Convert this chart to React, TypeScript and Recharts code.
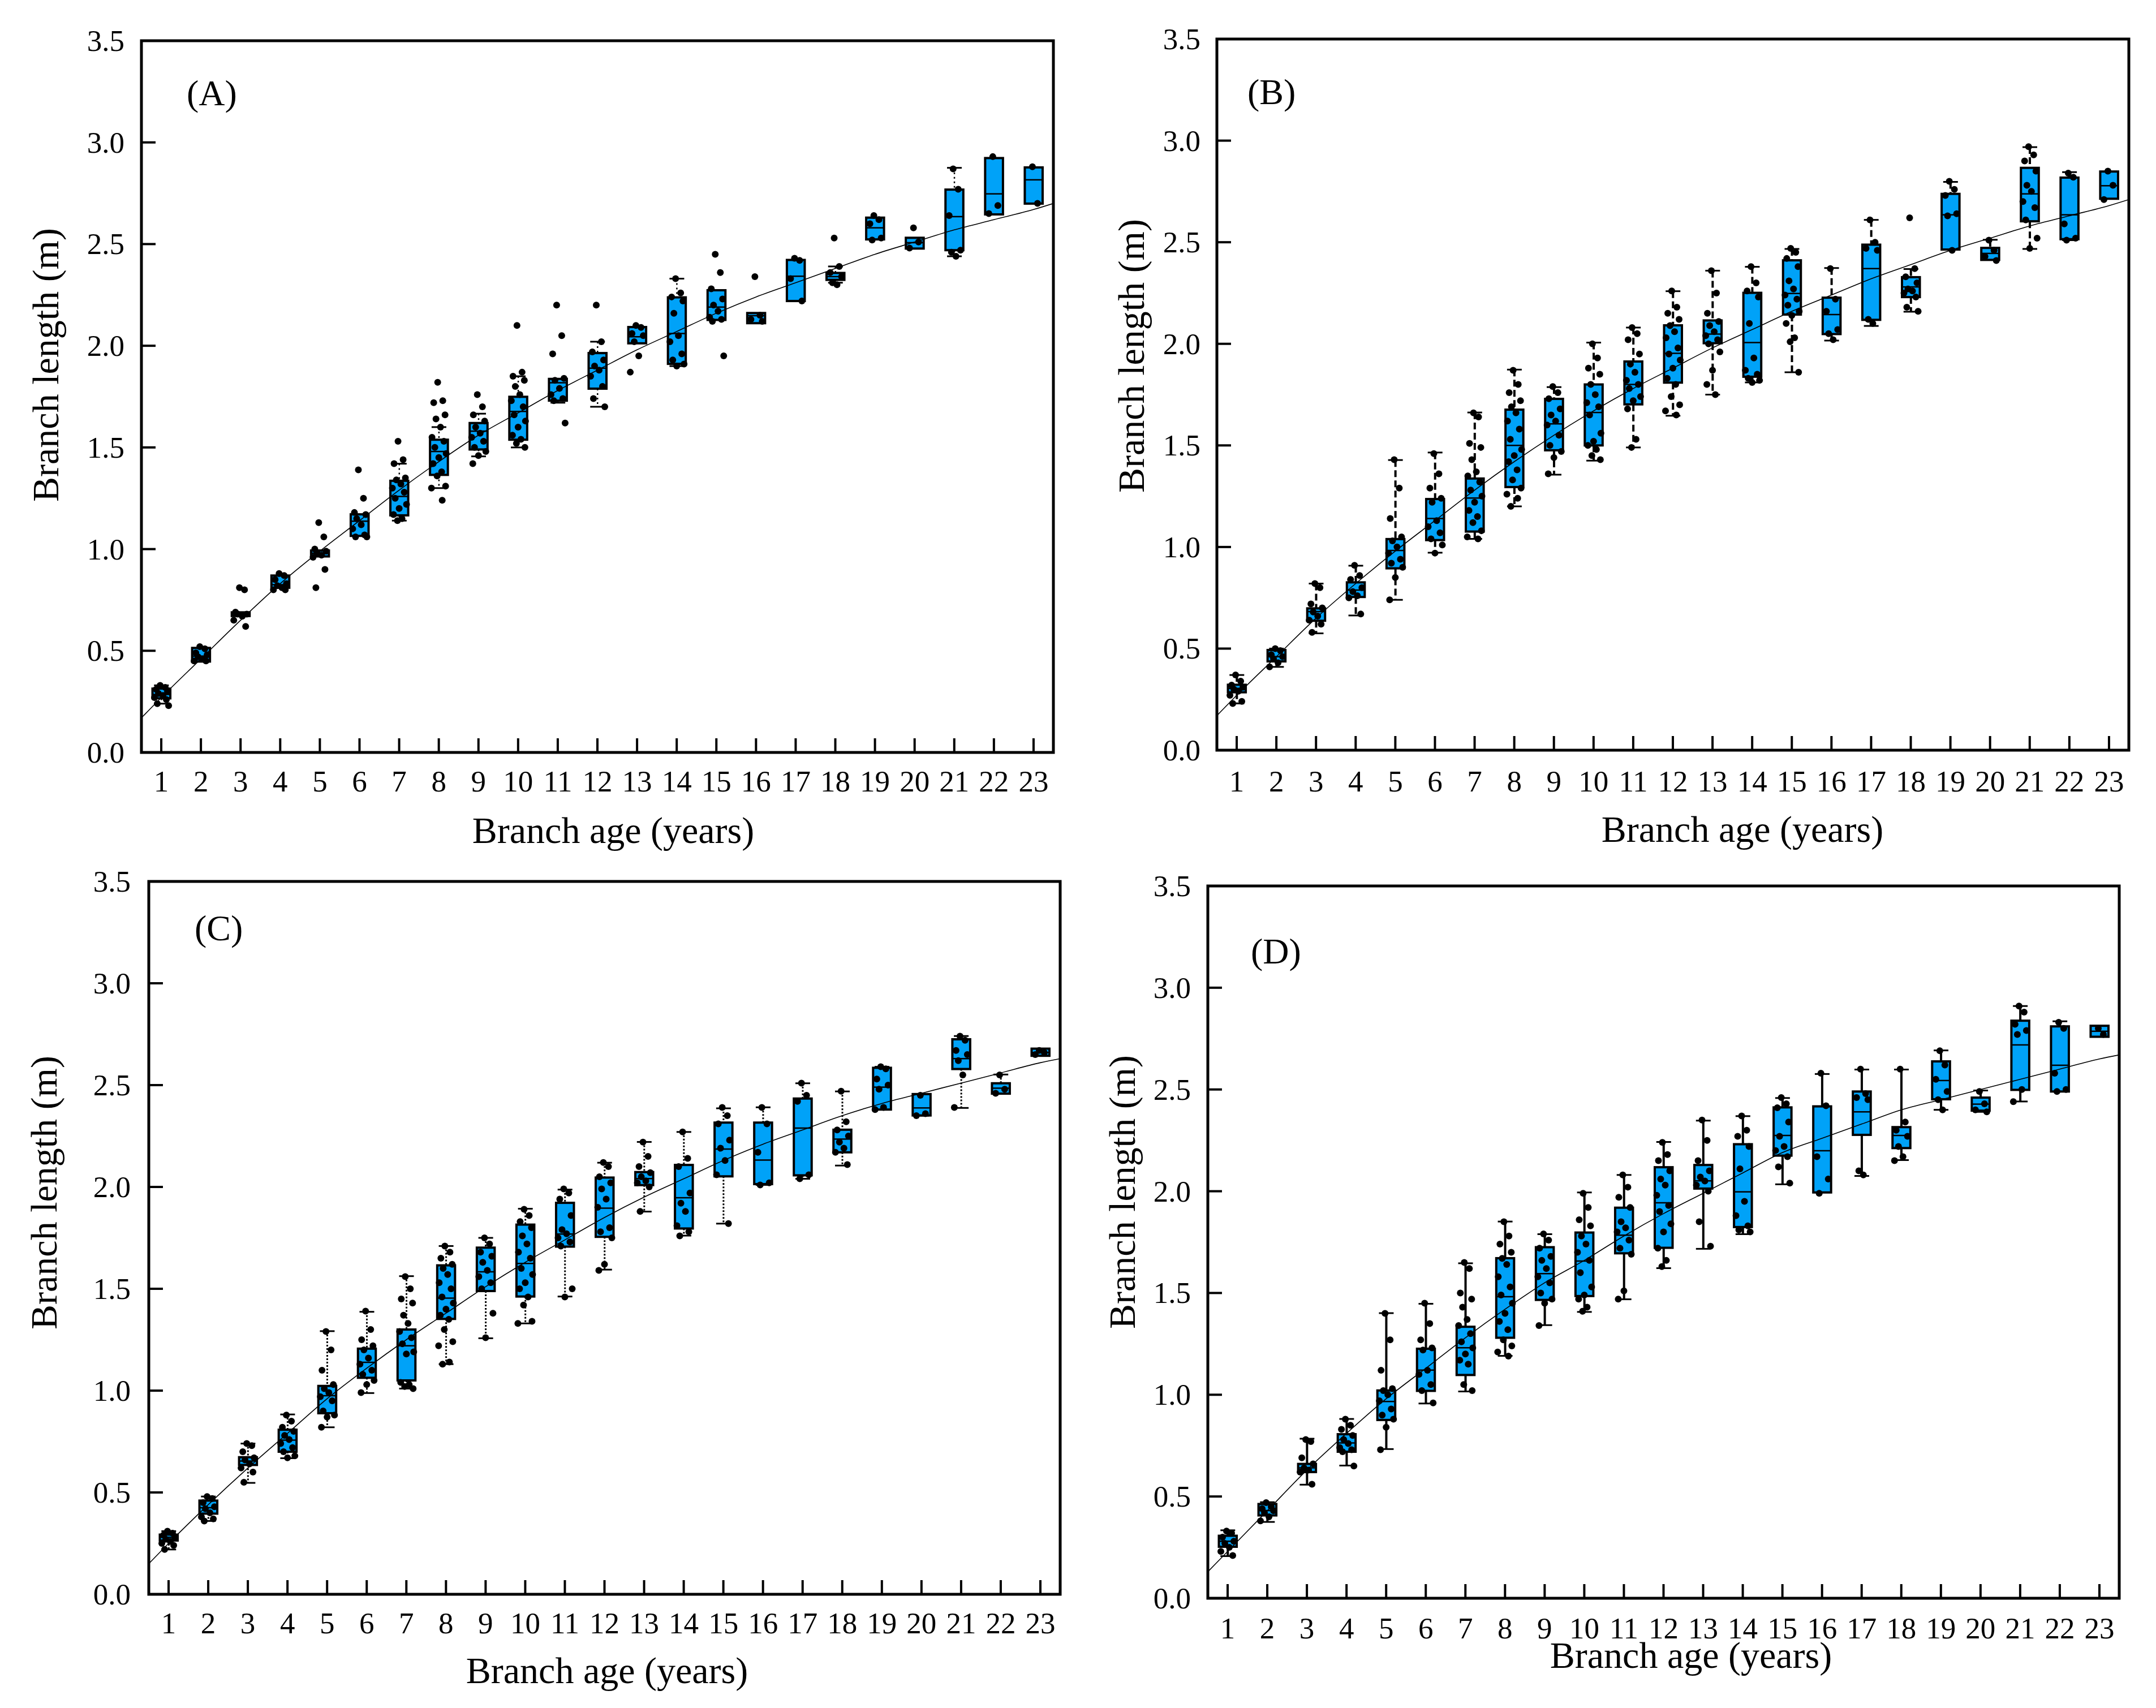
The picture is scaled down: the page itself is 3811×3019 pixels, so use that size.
import React from "react";
import { ComposedChart, Bar, Line, Scatter, XAxis, YAxis, ReferenceArea, Label } from "recharts";

const FONT = '"Liberation Serif", "Times New Roman", serif';
const BOX_FILL = "#00A2F8";

const AGES = [1, 2, 3, 4, 5, 6, 7, 8, 9, 10, 11, 12, 13, 14, 15, 16, 17, 18, 19, 20, 21, 22, 23];
const Y_TICKS = [0, 0.5, 1, 1.5, 2, 2.5, 3, 3.5];
const FIT_AGES = [0.5, 1, 2, 3, 4, 5, 6, 7, 8, 9, 10, 11, 12, 13, 14, 15, 16, 17, 18, 19, 20, 21, 22, 23, 23.5];

// ---- panel A ----
const A_Q1 = [0.266, 0.447, 0.671, 0.81, 0.964, 1.065, 1.166, 1.365, 1.49, 1.538, 1.73, 1.789, 2.012, 1.911, 2.127, 2.111, 2.22, 2.324, 2.523, 2.478, 2.47, 2.646, 2.699];
const A_MED = [0.285, 0.474, 0.68, 0.825, 0.98, 1.137, 1.259, 1.48, 1.58, 1.677, 1.818, 1.89, 2.044, 2.06, 2.19, 2.148, 2.342, 2.34, 2.58, 2.507, 2.635, 2.747, 2.816];
const A_Q3 = [0.314, 0.514, 0.689, 0.87, 0.993, 1.171, 1.336, 1.538, 1.62, 1.749, 1.837, 1.964, 2.092, 2.238, 2.273, 2.161, 2.422, 2.358, 2.63, 2.531, 2.768, 2.923, 2.877];
const A_LO = [0.24, 0.447, 0.671, 0.81, 0.964, 1.065, 1.14, 1.3, 1.456, 1.5, 1.72, 1.7, 2.012, 1.9, 2.127, 2.111, 2.22, 2.31, 2.523, 2.478, 2.44, 2.646, 2.699];
const A_HI = [0.33, 0.514, 0.689, 0.87, 0.993, 1.171, 1.42, 1.6, 1.666, 1.85, 1.837, 2.02, 2.092, 2.33, 2.273, 2.161, 2.422, 2.39, 2.63, 2.531, 2.875, 2.923, 2.877];
const A_PTS = [
  [0.33, 0.32, 0.31, 0.3, 0.29, 0.28, 0.27, 0.26, 0.24, 0.23],
  [0.52, 0.51, 0.49, 0.48, 0.47, 0.46, 0.45, 0.45],
  [0.81, 0.8, 0.69, 0.68, 0.68, 0.67, 0.65, 0.62],
  [0.88, 0.87, 0.85, 0.83, 0.82, 0.81, 0.8, 0.8],
  [1.13, 1.06, 1.0, 0.99, 0.98, 0.97, 0.96, 0.9, 0.81],
  [1.39, 1.25, 1.18, 1.17, 1.15, 1.12, 1.1, 1.07, 1.06, 1.06],
  [1.53, 1.44, 1.42, 1.35, 1.34, 1.32, 1.3, 1.28, 1.25, 1.22, 1.2, 1.17, 1.15, 1.14],
  [1.82, 1.73, 1.72, 1.66, 1.64, 1.6, 1.55, 1.53, 1.5, 1.47, 1.45, 1.42, 1.38, 1.36, 1.31, 1.3, 1.24],
  [1.76, 1.7, 1.66, 1.63, 1.6, 1.57, 1.55, 1.53, 1.5, 1.48, 1.46, 1.42],
  [2.1, 1.87, 1.85, 1.83, 1.8, 1.76, 1.73, 1.7, 1.66, 1.63, 1.6, 1.56, 1.54, 1.52, 1.5],
  [2.2, 2.05, 1.96, 1.84, 1.83, 1.79, 1.76, 1.74, 1.73, 1.62],
  [2.2, 2.02, 1.97, 1.93, 1.9, 1.88, 1.85, 1.8, 1.74, 1.7],
  [2.1, 2.09, 2.06, 2.05, 2.02, 1.95, 1.87],
  [2.33, 2.26, 2.24, 2.22, 2.16, 2.05, 2.02, 1.96, 1.93, 1.91, 1.9],
  [2.45, 2.36, 2.28, 2.23, 2.2, 2.17, 2.14, 2.13, 2.12, 1.95],
  [2.34, 2.15, 2.13, 2.12],
  [2.43, 2.42, 2.33, 2.22],
  [2.53, 2.39, 2.36, 2.34, 2.31, 2.3],
  [2.64, 2.62, 2.6, 2.53, 2.52],
  [2.58, 2.51, 2.48],
  [2.87, 2.77, 2.64, 2.47, 2.46, 2.44],
  [2.93, 2.69, 2.65],
  [2.88, 2.7],
];
const A_FIT = [0.17, 0.27, 0.46, 0.65, 0.83, 0.99, 1.14, 1.29, 1.43, 1.56, 1.67, 1.78, 1.88, 1.98, 2.07, 2.16, 2.24, 2.31, 2.38, 2.45, 2.51, 2.57, 2.62, 2.67, 2.7];

// ---- panel B ----
const B_Q1 = [0.285, 0.437, 0.637, 0.754, 0.895, 1.034, 1.076, 1.295, 1.476, 1.5, 1.702, 1.809, 2.003, 1.838, 2.144, 2.048, 2.118, 2.23, 2.464, 2.413, 2.603, 2.515, 2.714];
const B_MED = [0.304, 0.46, 0.682, 0.788, 0.983, 1.14, 1.241, 1.5, 1.606, 1.662, 1.8, 1.953, 2.048, 2.006, 2.248, 2.144, 2.37, 2.28, 2.635, 2.445, 2.738, 2.635, 2.778];
const B_Q3 = [0.322, 0.493, 0.698, 0.826, 1.039, 1.236, 1.337, 1.676, 1.729, 1.8, 1.913, 2.091, 2.115, 2.251, 2.411, 2.227, 2.488, 2.328, 2.738, 2.472, 2.866, 2.818, 2.848];
const B_LO = [0.23, 0.41, 0.575, 0.663, 0.74, 0.972, 1.04, 1.2, 1.356, 1.425, 1.49, 1.646, 1.75, 1.81, 1.86, 2.016, 2.088, 2.158, 2.464, 2.413, 2.467, 2.51, 2.714];
const B_HI = [0.37, 0.5, 0.82, 0.908, 1.428, 1.465, 1.662, 1.873, 1.787, 2.006, 2.08, 2.259, 2.36, 2.379, 2.467, 2.373, 2.61, 2.368, 2.797, 2.512, 2.968, 2.845, 2.848];
const B_PTS = [
  [0.37, 0.34, 0.32, 0.31, 0.3, 0.29, 0.27, 0.24, 0.23],
  [0.5, 0.49, 0.47, 0.46, 0.45, 0.43, 0.41],
  [0.82, 0.8, 0.72, 0.7, 0.68, 0.66, 0.64, 0.62, 0.58],
  [0.91, 0.86, 0.84, 0.8, 0.78, 0.76, 0.75, 0.67],
  [1.43, 1.29, 1.14, 1.05, 1.03, 1.0, 0.97, 0.94, 0.92, 0.9, 0.85, 0.74],
  [1.46, 1.36, 1.29, 1.24, 1.22, 1.13, 1.1, 1.07, 1.04, 1.01, 0.97],
  [1.66, 1.64, 1.51, 1.49, 1.43, 1.37, 1.35, 1.32, 1.28, 1.25, 1.22, 1.18, 1.15, 1.12, 1.08, 1.05, 1.04],
  [1.87, 1.8, 1.76, 1.72, 1.69, 1.66, 1.62, 1.58, 1.53, 1.48, 1.45, 1.42, 1.38, 1.33, 1.29, 1.26, 1.24, 1.2],
  [1.79, 1.76, 1.73, 1.68, 1.65, 1.62, 1.6, 1.55, 1.5, 1.47, 1.44, 1.36],
  [2.0, 1.93, 1.88, 1.85, 1.8, 1.75, 1.71, 1.69, 1.65, 1.56, 1.52, 1.5, 1.48, 1.45, 1.43],
  [2.08, 2.05, 2.02, 1.95, 1.9, 1.86, 1.82, 1.8, 1.78, 1.74, 1.72, 1.68, 1.53, 1.49],
  [2.26, 2.18, 2.15, 2.12, 2.09, 2.06, 2.03, 1.98, 1.95, 1.92, 1.88, 1.83, 1.8, 1.74, 1.7, 1.67, 1.65],
  [2.36, 2.25, 2.15, 2.11, 2.09, 2.06, 2.04, 2.02, 2.0, 1.96, 1.87, 1.8, 1.75],
  [2.38, 2.3, 2.26, 2.23, 2.1, 1.93, 1.87, 1.85, 1.83, 1.82, 1.81],
  [2.47, 2.45, 2.42, 2.38, 2.31, 2.27, 2.24, 2.22, 2.19, 2.16, 2.14, 2.1, 2.03, 2.01, 1.86],
  [2.37, 2.22, 2.16, 2.07, 2.05, 2.02],
  [2.61, 2.5, 2.47, 2.46, 2.12, 2.1],
  [2.62, 2.37, 2.33, 2.3, 2.27, 2.26, 2.25, 2.23, 2.18, 2.16],
  [2.8, 2.76, 2.73, 2.64, 2.63, 2.46],
  [2.51, 2.46, 2.43, 2.41],
  [2.97, 2.93, 2.9, 2.85, 2.78, 2.75, 2.7, 2.67, 2.61, 2.52, 2.47],
  [2.84, 2.82, 2.59, 2.52, 2.51],
  [2.85, 2.78, 2.71],
];
const B_FIT = [0.17, 0.27, 0.46, 0.65, 0.82, 0.98, 1.13, 1.28, 1.42, 1.55, 1.67, 1.78, 1.88, 1.98, 2.07, 2.16, 2.24, 2.32, 2.39, 2.46, 2.52, 2.58, 2.63, 2.68, 2.71];

// ---- panel C ----
const C_Q1 = [0.264, 0.396, 0.635, 0.7, 0.889, 1.063, 1.05, 1.352, 1.489, 1.462, 1.707, 1.755, 2.009, 1.796, 2.052, 2.014, 2.057, 2.17, 2.38, 2.351, 2.579, 2.458, 2.644];
const C_MED = [0.28, 0.425, 0.654, 0.757, 0.975, 1.139, 1.22, 1.454, 1.583, 1.624, 1.769, 1.896, 2.041, 1.947, 2.186, 2.132, 2.289, 2.235, 2.49, 2.388, 2.63, 2.485, 2.66];
const C_Q3 = [0.293, 0.46, 0.673, 0.808, 1.023, 1.206, 1.3, 1.615, 1.702, 1.815, 1.922, 2.046, 2.073, 2.108, 2.316, 2.316, 2.434, 2.281, 2.585, 2.456, 2.725, 2.509, 2.679];
const C_LO = [0.22, 0.36, 0.547, 0.668, 0.82, 0.988, 1.01, 1.13, 1.257, 1.33, 1.462, 1.594, 1.879, 1.761, 1.82, 2.01, 2.04, 2.105, 2.38, 2.35, 2.388, 2.458, 2.644];
const C_HI = [0.31, 0.48, 0.74, 0.883, 1.292, 1.387, 1.562, 1.71, 1.75, 1.893, 1.987, 2.119, 2.221, 2.27, 2.386, 2.391, 2.509, 2.469, 2.59, 2.456, 2.741, 2.552, 2.679];
const C_PTS = [
  [0.31, 0.3, 0.29, 0.28, 0.27, 0.26, 0.25, 0.24, 0.22],
  [0.48, 0.47, 0.45, 0.43, 0.42, 0.4, 0.38, 0.37, 0.36],
  [0.74, 0.73, 0.7, 0.67, 0.66, 0.64, 0.62, 0.6, 0.55],
  [0.88, 0.85, 0.82, 0.8, 0.78, 0.76, 0.74, 0.72, 0.7, 0.68, 0.67],
  [1.29, 1.2, 1.1, 1.03, 1.01, 0.99, 0.97, 0.95, 0.9, 0.88, 0.87, 0.82],
  [1.39, 1.3, 1.25, 1.22, 1.2, 1.16, 1.13, 1.1, 1.08, 1.05, 1.03, 0.99],
  [1.56, 1.5, 1.45, 1.43, 1.37, 1.33, 1.29, 1.26, 1.23, 1.19, 1.18, 1.04, 1.03, 1.02, 1.01],
  [1.71, 1.68, 1.65, 1.62, 1.6, 1.57, 1.53, 1.5, 1.46, 1.43, 1.4, 1.37, 1.35, 1.3, 1.24, 1.22, 1.14, 1.13],
  [1.75, 1.72, 1.68, 1.66, 1.63, 1.59, 1.56, 1.53, 1.5, 1.38, 1.26],
  [1.89, 1.86, 1.83, 1.8, 1.76, 1.72, 1.68, 1.65, 1.6, 1.57, 1.53, 1.5, 1.46, 1.42, 1.34, 1.33],
  [1.99, 1.97, 1.94, 1.86, 1.79, 1.77, 1.75, 1.73, 1.71, 1.5, 1.46],
  [2.12, 2.1, 2.05, 2.02, 1.99, 1.94, 1.9, 1.8, 1.78, 1.75, 1.62, 1.59],
  [2.22, 2.15, 2.1, 2.07, 2.05, 2.03, 2.02, 2.0, 1.88],
  [2.27, 2.14, 2.1, 1.97, 1.92, 1.88, 1.81, 1.78, 1.76],
  [2.39, 2.35, 2.31, 2.23, 2.19, 2.13, 2.06, 1.82],
  [2.39, 2.31, 2.17, 2.02, 2.01],
  [2.51, 2.45, 2.42, 2.06, 2.04],
  [2.47, 2.32, 2.28, 2.25, 2.22, 2.19, 2.17, 2.11],
  [2.59, 2.58, 2.53, 2.5, 2.48, 2.39, 2.38],
  [2.45, 2.36, 2.35],
  [2.74, 2.72, 2.67, 2.65, 2.62, 2.55, 2.39],
  [2.55, 2.48, 2.46],
  [2.67, 2.66, 2.65],
];
const C_FIT = [0.15, 0.25, 0.44, 0.62, 0.79, 0.96, 1.11, 1.25, 1.38, 1.51, 1.63, 1.74, 1.85, 1.95, 2.04, 2.13, 2.21, 2.28, 2.35, 2.41, 2.46, 2.51, 2.56, 2.61, 2.63];

// ---- panel D ----
const D_Q1 = [0.253, 0.407, 0.62, 0.72, 0.876, 1.019, 1.097, 1.28, 1.466, 1.485, 1.695, 1.722, 2.013, 1.824, 2.175, 1.994, 2.277, 2.212, 2.452, 2.396, 2.498, 2.49, 2.759];
const D_MED = [0.28, 0.431, 0.641, 0.763, 0.967, 1.121, 1.231, 1.482, 1.595, 1.657, 1.784, 1.943, 2.051, 1.997, 2.274, 2.199, 2.39, 2.274, 2.544, 2.428, 2.719, 2.619, 2.786];
const D_Q3 = [0.307, 0.463, 0.66, 0.806, 1.021, 1.226, 1.334, 1.671, 1.725, 1.797, 1.919, 2.118, 2.129, 2.231, 2.412, 2.417, 2.49, 2.315, 2.638, 2.46, 2.838, 2.81, 2.813];
const D_LO = [0.207, 0.375, 0.558, 0.652, 0.733, 0.957, 1.016, 1.191, 1.342, 1.407, 1.469, 1.622, 1.717, 1.789, 2.034, 1.994, 2.075, 2.153, 2.4, 2.39, 2.441, 2.49, 2.759];
const D_HI = [0.334, 0.472, 0.784, 0.881, 1.401, 1.447, 1.646, 1.851, 1.789, 1.994, 2.08, 2.242, 2.347, 2.369, 2.458, 2.576, 2.598, 2.598, 2.692, 2.495, 2.91, 2.835, 2.813];
const D_PTS = [
  [0.33, 0.32, 0.3, 0.28, 0.27, 0.25, 0.23, 0.21],
  [0.47, 0.45, 0.44, 0.43, 0.42, 0.4, 0.38],
  [0.78, 0.77, 0.69, 0.66, 0.64, 0.63, 0.62, 0.56],
  [0.88, 0.85, 0.83, 0.8, 0.78, 0.76, 0.74, 0.73, 0.72, 0.65],
  [1.4, 1.27, 1.12, 1.03, 1.02, 1.0, 0.97, 0.93, 0.9, 0.88, 0.84, 0.73],
  [1.45, 1.35, 1.27, 1.23, 1.22, 1.12, 1.1, 1.05, 1.02, 0.96],
  [1.65, 1.62, 1.5, 1.47, 1.43, 1.37, 1.34, 1.3, 1.26, 1.23, 1.2, 1.17, 1.15, 1.05, 1.02],
  [1.85, 1.78, 1.74, 1.7, 1.67, 1.64, 1.58, 1.53, 1.49, 1.45, 1.4, 1.36, 1.32, 1.27, 1.24, 1.21, 1.19],
  [1.79, 1.76, 1.72, 1.68, 1.66, 1.62, 1.58, 1.55, 1.5, 1.47, 1.45, 1.34],
  [1.99, 1.92, 1.86, 1.83, 1.78, 1.74, 1.7, 1.66, 1.6, 1.53, 1.49, 1.47, 1.43, 1.41],
  [2.08, 2.02, 1.97, 1.92, 1.85, 1.82, 1.8, 1.76, 1.72, 1.69, 1.51, 1.47],
  [2.24, 2.18, 2.15, 2.1, 2.06, 2.03, 1.98, 1.93, 1.9, 1.84, 1.8, 1.72, 1.66, 1.63],
  [2.35, 2.25, 2.15, 2.1, 2.07, 2.05, 2.03, 2.0, 1.85, 1.73],
  [2.37, 2.3, 2.27, 2.22, 2.11, 1.95, 1.88, 1.83, 1.81, 1.8],
  [2.46, 2.43, 2.41, 2.34, 2.27, 2.22, 2.2, 2.17, 2.12, 2.04],
  [2.58, 2.42, 2.17, 2.06, 1.99],
  [2.6, 2.48, 2.46, 2.45, 2.1, 2.08],
  [2.6, 2.34, 2.3, 2.27, 2.22, 2.17, 2.15],
  [2.69, 2.62, 2.55, 2.49, 2.45, 2.4],
  [2.49, 2.43, 2.4, 2.39],
  [2.91, 2.88, 2.82, 2.79, 2.77, 2.5, 2.44],
  [2.83, 2.8, 2.58, 2.5, 2.49],
  [2.8, 2.77],
];
const D_FIT = [0.13, 0.23, 0.43, 0.63, 0.81, 0.98, 1.13, 1.28, 1.42, 1.55, 1.66, 1.78, 1.89, 1.99, 2.09, 2.19, 2.26, 2.33, 2.4, 2.45, 2.5, 2.55, 2.6, 2.65, 2.67];

// pixel offsets used to spread the points sideways (jitter look)
const JITTER = [-2, 7, -9, 11, -5, 3, -12, 9, -7, 13, 0, -10, 5, -3, 12, -13, 6, -6];

function makeRows(q1: number[], med: number[], q3: number[], lo: number[], hi: number[]) {
  return AGES.map((age, i) => ({
    age,
    span: [Math.min(lo[i], q1[i]), Math.max(hi[i], q3[i])],
    q1: q1[i],
    med: med[i],
    q3: q3[i],
    lo: lo[i],
    hi: hi[i],
  }));
}
function makePoints(pts: number[][]) {
  return pts.flatMap((arr, i) => arr.map((v, j) => ({ age: AGES[i], v, j })));
}
function makeFit(fit: number[]) {
  return FIT_AGES.map((age, i) => ({ age, v: fit[i] }));
}

type Whisker = { dash?: string; width: number };

function boxShape(w: Whisker) {
  return (props: any) => {
    const { x, y, width, height, payload } = props;
    const [lo, hi] = payload.span;
    const top = Math.min(y, y + height);
    const h = Math.abs(height);
    const k = h / (hi - lo);
    const py = (v: number) => top + (hi - v) * k;
    const cx = x + width / 2;
    const yq1 = py(payload.q1);
    const yq3 = py(payload.q3);
    const ym = py(payload.med);
    const cap = 13;
    return (
      <g>
        {payload.hi > payload.q3 + 1e-6 && (
          <g>
            <line x1={cx} x2={cx} y1={py(payload.hi)} y2={yq3} stroke="#000" strokeWidth={w.width} strokeDasharray={w.dash} />
            <line x1={cx - cap} x2={cx + cap} y1={py(payload.hi)} y2={py(payload.hi)} stroke="#000" strokeWidth={3} />
          </g>
        )}
        {payload.lo < payload.q1 - 1e-6 && (
          <g>
            <line x1={cx} x2={cx} y1={yq1} y2={py(payload.lo)} stroke="#000" strokeWidth={w.width} strokeDasharray={w.dash} />
            <line x1={cx - cap} x2={cx + cap} y1={py(payload.lo)} y2={py(payload.lo)} stroke="#000" strokeWidth={3} />
          </g>
        )}
        <rect x={x} y={yq3} width={width} height={Math.max(yq1 - yq3, 1)} fill={BOX_FILL} stroke="#000" strokeWidth={4} />
        <line x1={x} x2={x + width} y1={ym} y2={ym} stroke="#000" strokeWidth={2.5} />
      </g>
    );
  };
}

const dotShape = (props: any) => (
  <circle cx={props.cx + JITTER[props.payload.j % JITTER.length]} cy={props.cy} r={6} fill="#000" />
);

const PANELS = [
  {
    letter: "(A)", left: 0, top: 0, width: 1900, height: 1520,
    margin: { top: 72, right: 38, bottom: 0, left: 0 }, yW: 250, xH: 190,
    yTitle: [80, 645], xTitle: [1084, 1490], letterPos: [330, 186], yGap: 30, xGap: 31,
    whisker: { dash: "3 5", width: 2.5 },
    rows: makeRows(A_Q1, A_MED, A_Q3, A_LO, A_HI), points: makePoints(A_PTS), fit: makeFit(A_FIT),
  },
  {
    letter: "(B)", left: 1900, top: 0, width: 1911, height: 1520,
    margin: { top: 69, right: 48, bottom: 0, left: 0 }, yW: 251, xH: 194,
    yTitle: [99, 629], xTitle: [1180, 1488], letterPos: [305, 184], yGap: 29, xGap: 35,
    whisker: { dash: "12 6", width: 4 },
    rows: makeRows(B_Q1, B_MED, B_Q3, B_LO, B_HI), points: makePoints(B_PTS), fit: makeFit(B_FIT),
  },
  {
    letter: "(C)", left: 0, top: 1500, width: 1900, height: 1519,
    margin: { top: 58, right: 26, bottom: 0, left: 0 }, yW: 263, xH: 201,
    yTitle: [77, 608], xTitle: [1073, 1475], letterPos: [344, 162], yGap: 32, xGap: 31,
    whisker: { dash: "3 3", width: 3 },
    rows: makeRows(C_Q1, C_MED, C_Q3, C_LO, C_HI), points: makePoints(C_PTS), fit: makeFit(C_FIT),
  },
  {
    letter: "(D)", left: 1900, top: 1500, width: 1911, height: 1519,
    margin: { top: 66, right: 65, bottom: 0, left: 0 }, yW: 235, xH: 194,
    yTitle: [83, 607], xTitle: [1089, 1448], letterPos: [311, 203], yGap: 30, xGap: 33,
    whisker: { width: 4 },
    rows: makeRows(D_Q1, D_MED, D_Q3, D_LO, D_HI), points: makePoints(D_PTS), fit: makeFit(D_FIT),
  },
];

function Panel({ p }: { p: (typeof PANELS)[number] }) {
  const yTick = (t: any) => {
    const ax = t.x + p.yGap;
    return (
      <g>
        <line x1={ax} x2={ax + 25} y1={t.y} y2={t.y} stroke="#000" strokeWidth={4} />
        <text x={t.x} y={t.y} textAnchor="end" dominantBaseline="central" fontSize={53} fontFamily={FONT} fill="#000">
          {Number(t.payload.value).toFixed(1)}
        </text>
      </g>
    );
  };
  const xTick = (t: any) => {
    const ay = t.y - p.xGap;
    return (
      <g>
        <line x1={t.x} x2={t.x} y1={ay} y2={ay - 25} stroke="#000" strokeWidth={4} />
        <text x={t.x} y={t.y} dy="0.71em" textAnchor="middle" fontSize={53} fontFamily={FONT} fill="#000">
          {t.payload.value}
        </text>
      </g>
    );
  };
  return (
    <div style={{ position: "absolute", left: p.left, top: p.top }}>
      <ComposedChart width={p.width} height={p.height} data={p.rows} margin={p.margin}>
        <ReferenceArea x1={0.5} x2={23.5} y1={0} y2={3.5} fill="none" stroke="#000" strokeWidth={5} />
        <XAxis
          type="number" dataKey="age" domain={[0.5, 23.5]} ticks={AGES} interval={0}
          height={p.xH} tickSize={0} tickMargin={p.xGap} axisLine={false} tickLine={false}
          tick={xTick} allowDataOverflow
        >
          <Label
            content={() => (
              <g>
                <text x={p.xTitle[0]} y={p.xTitle[1]} textAnchor="middle" fontSize={66} fontFamily={FONT} fill="#000">
                  Branch age (years)
                </text>
                <text x={p.letterPos[0]} y={p.letterPos[1]} fontSize={64} fontFamily={FONT} fill="#000">
                  {p.letter}
                </text>
              </g>
            )}
          />
        </XAxis>
        <YAxis
          type="number" dataKey="v" domain={[0, 3.5]} ticks={Y_TICKS} interval={0}
          width={p.yW} tickSize={0} tickMargin={p.yGap} axisLine={false} tickLine={false}
          tick={yTick} allowDataOverflow
        >
          <Label
            content={() => (
              <text
                x={p.yTitle[0]} y={p.yTitle[1]} textAnchor="middle" dominantBaseline="central"
                transform={`rotate(-90 ${p.yTitle[0]} ${p.yTitle[1]})`}
                fontSize={66} fontFamily={FONT} fill="#000"
              >
                Branch length (m)
              </text>
            )}
          />
        </YAxis>
        <Bar dataKey="span" barSize={47} shape={boxShape(p.whisker)} isAnimationActive={false} />
        <Line data={p.fit} dataKey="v" type="monotone" stroke="#000" strokeWidth={1.6} dot={false} activeDot={false} isAnimationActive={false} />
        <Scatter data={p.points} shape={dotShape} isAnimationActive={false} />
      </ComposedChart>
    </div>
  );
}

export default function App() {
  return (
    <div style={{ position: "absolute", left: 0, top: 0, width: 3811, height: 3019, background: "#fff" }}>
      {PANELS.map((p) => (
        <Panel key={p.letter} p={p} />
      ))}
    </div>
  );
}
